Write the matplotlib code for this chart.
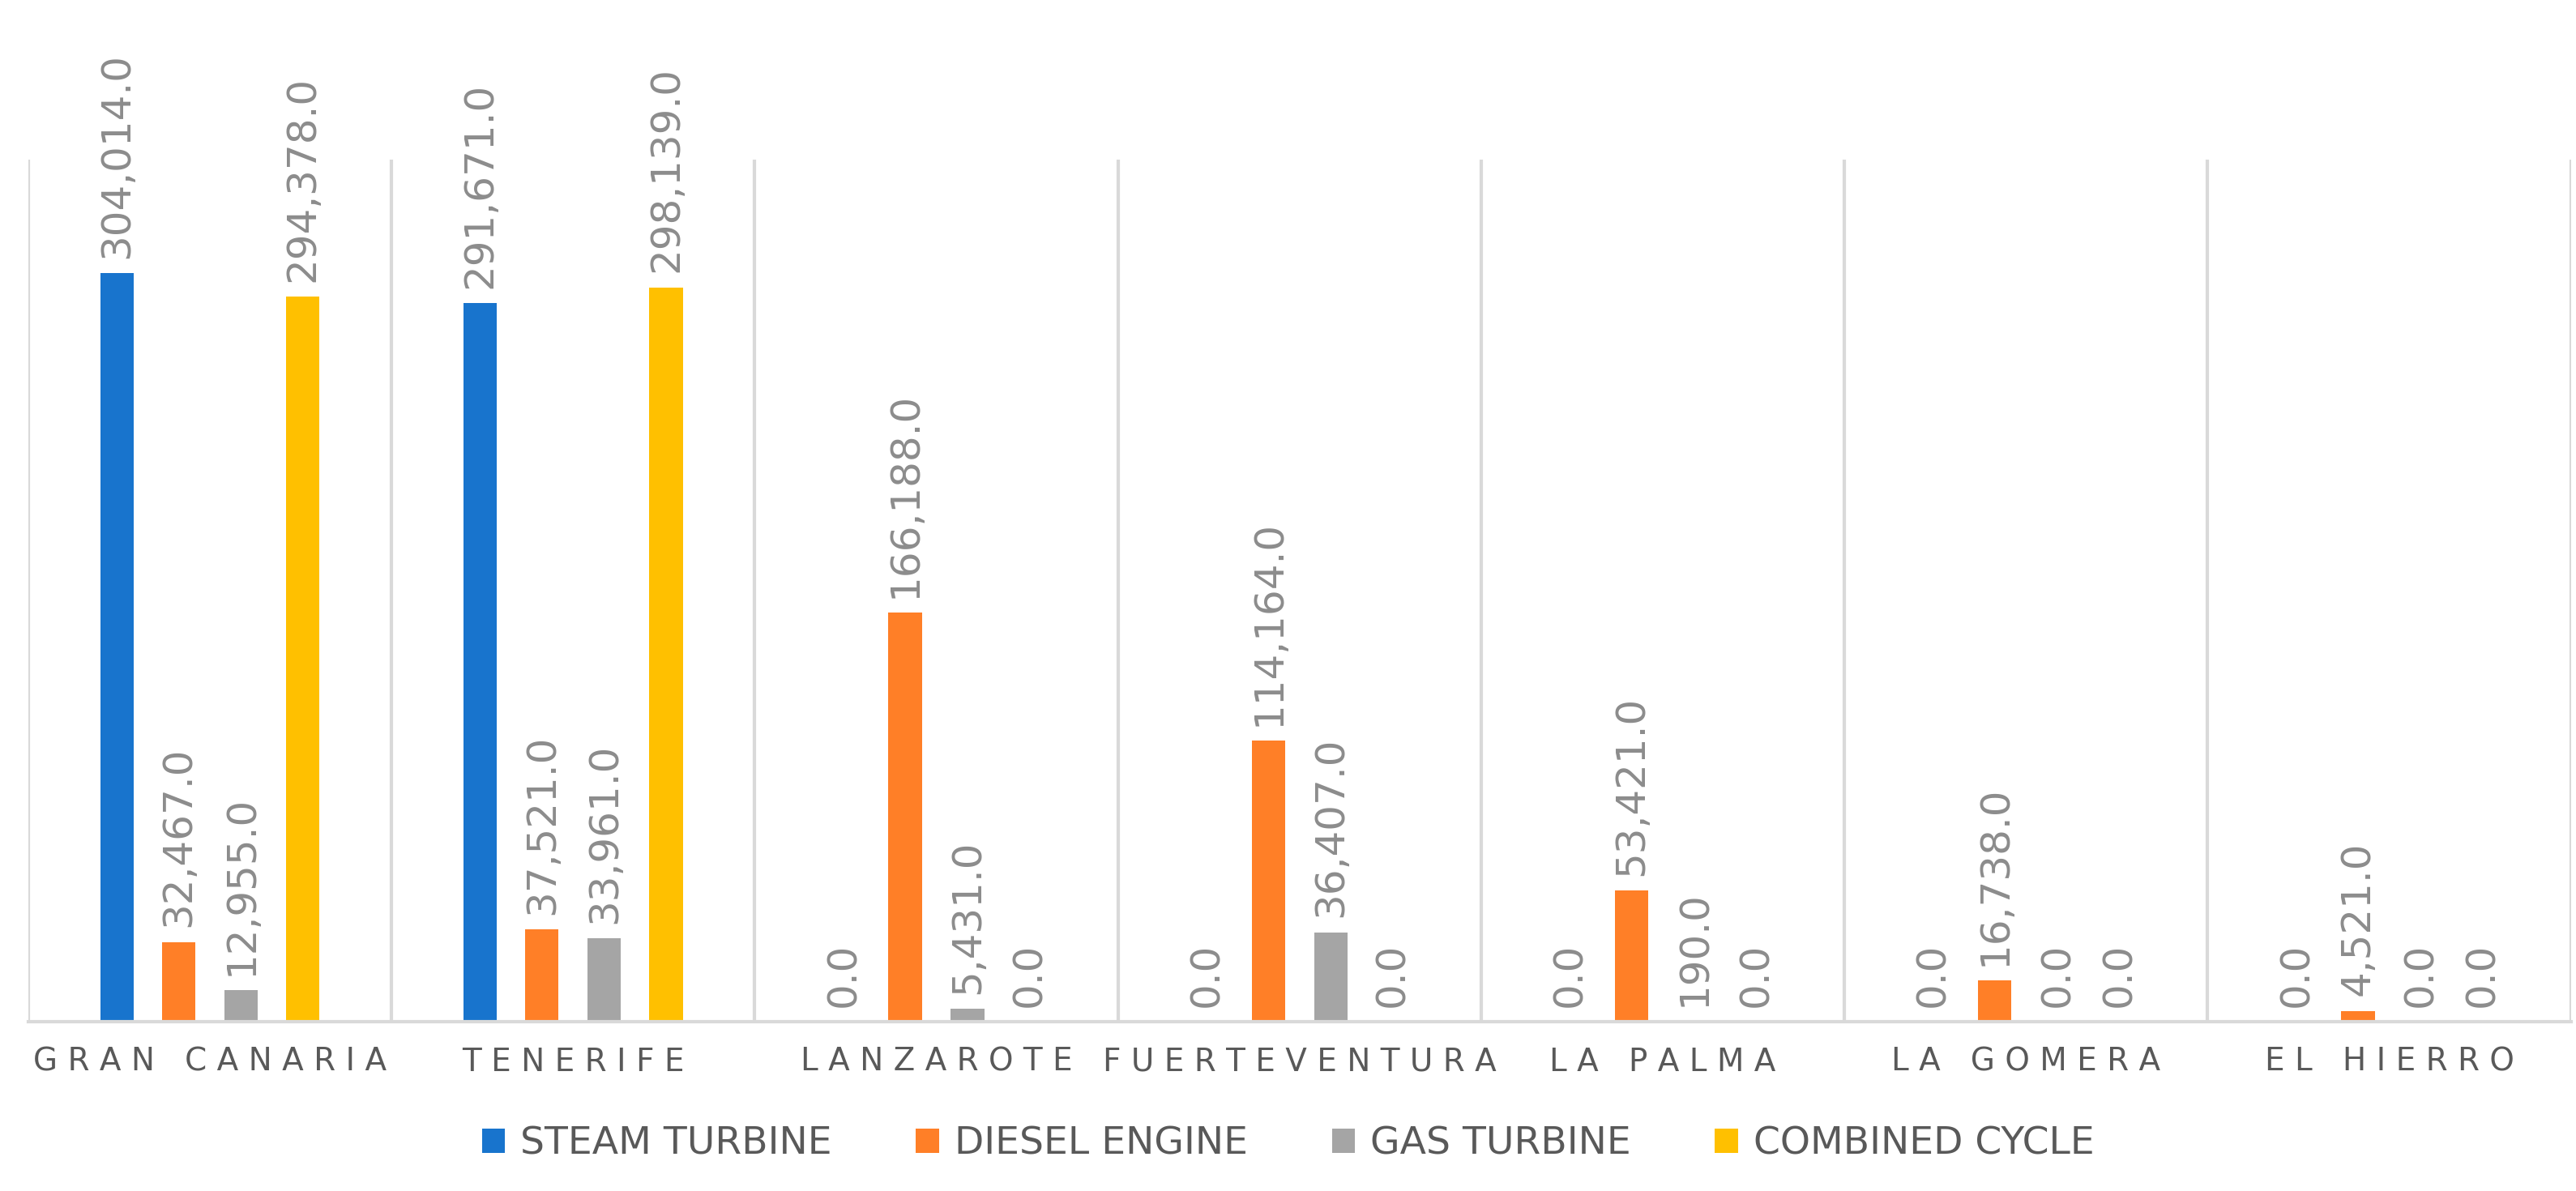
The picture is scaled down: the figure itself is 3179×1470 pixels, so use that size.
import matplotlib
matplotlib.use("Agg")
import matplotlib.pyplot as plt
import numpy as np

categories = ["GRAN CANARIA", "TENERIFE", "LANZAROTE", "FUERTEVENTURA", "LA PALMA", "LA GOMERA", "EL HIERRO"]
series_names = ["STEAM TURBINE", "DIESEL ENGINE", "GAS TURBINE", "COMBINED CYCLE"]
steam = [304014.0, 291671.0, 0.0, 0.0, 0.0, 0.0, 0.0]
diesel = [32467.0, 37521.0, 166188.0, 114164.0, 53421.0, 16738.0, 4521.0]
gas = [12955.0, 33961.0, 5431.0, 36407.0, 190.0, 0.0, 0.0]
combined = [294378.0, 298139.0, 0.0, 0.0, 0.0, 0.0, 0.0]
colors = ["#1874CD", "#FF7F27", "#A5A5A5", "#FFC000"]

fig = plt.figure(figsize=(31.79, 14.7), dpi=100)
ax = fig.add_axes([0.011, 0.142, 0.987, 0.724])
x = np.arange(len(categories))
offs = [-0.256, -0.086, 0.086, 0.256]
w = 0.092
for vals, off, c, name in zip([steam, diesel, gas, combined], offs, colors, series_names):
    ax.bar(x + off, vals, w, color=c, label=name)
    for xi, v in zip(x, vals):
        ax.text(xi + off, v + 6000, f"{v:,.1f}", rotation=90, ha="center", va="bottom",
                fontsize=36, color="#8C8C8C")
ax.set_xlim(-0.5, len(categories) - 0.5)
ax.set_ylim(0, 350000)
for b in np.arange(0.5, len(categories) - 0.5, 1.0):
    ax.axvline(b, color="#D9D9D9", lw=3)
ax.axvline(-0.5, color="#D9D9D9", lw=3)
ax.axvline(len(categories) - 0.5, color="#D9D9D9", lw=3)
for s in ["top", "left", "right"]:
    ax.spines[s].set_visible(False)
ax.spines["bottom"].set_color("#D9D9D9")
ax.spines["bottom"].set_linewidth(3)
ax.set_yticks([])
ax.set_xticks(x)
ax.set_xticklabels([" ".join(c) for c in categories], fontsize=28, color="#595959")
ax.tick_params(axis="x", length=0, pad=22)
fig.legend(loc="lower center", bbox_to_anchor=(0.5, -0.005), ncol=4, frameon=False,
           fontsize=34, labelcolor="#595959", handlelength=0.6, handleheight=0.6,
           columnspacing=2.2, handletextpad=0.4)
fig.savefig("out.png", dpi=100)
